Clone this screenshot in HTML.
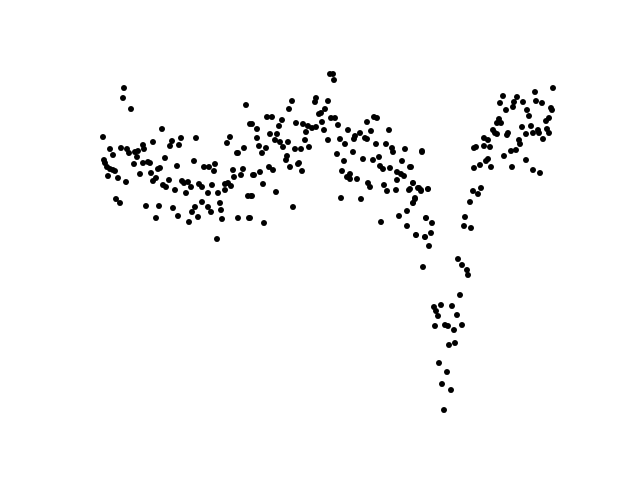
<!DOCTYPE html>
<html><head><meta charset="utf-8"><title>Scatter</title>
<style>html,body{margin:0;padding:0;background:#fff;}svg{display:block;}</style>
</head><body>
<svg id="chart" width="640" height="480" viewBox="0 0 640 480" xmlns="http://www.w3.org/2000/svg">
<rect x="0" y="0" width="640" height="480" fill="#fff"/>
<g id="pts"></g>
</svg>
<script>
const seriesT = [24,23,31,146,150,62,3,96,81,72,53,130,127,79,70,10,21,27,29,35,38,43,44,37,13,4,5,7,10,13,15,34,43,48,50,65,94,77,58,60,51,40,8,18,26,56,53,69,63,66,75,82,84,88,86,91,99,102,112,108,104,109,114,115,118,125,128,131,125,133,137,138,144,143,141,134,153,148,151,16,20,46,59,73,95,102,108,111,120,121,122,138,149,56,78,92,89,98,117,
230,233,234,216,215,228,192,189,225,221,219,167,172,231,235,274,277,182,196,203,222,238,267,152,179,208,212,216,157,224,206,248,289,170,177,260,271,255,254,265,267,157,240,205,228,175,180,188,245,276,286,183,209,159,166,195,201,292,293,305,322,162,253,237,187,186,279,263,273,302,244,199,198,190,280,283,290,310,169,173,202,297,301,304,242,250,154,160,247,250,257,297,313,163,268,270,284,296,287,309,318,321,328,176,152,241,261,315,313,193,307,299,326,150,164,281,307,316,325,
453,435,403,417,423,414,436,442,400,413,406,427,451,452,429,399,449,446,397,401,422,431,393,395,397,408,407,438,447,426,433,439,449,384,388,419,420,443,376,374,384,390,411,416,322,404,388,386,426,380,374,391,412,433,440,311,313,319,321,310,328,315,313,381,373,378,370,326,332,365,364,371,316,325,331,329,323,358,362,367,368,360,334,341,352,336,338,357,335,345,348,354,362,349,355,339,347,342,351,344];
const seriesV = [342,332,321,325,306,301,293,292,292,289,288,293,287,285,284,281,282,281,277,278,279,285,281,273,275,270,267,263,261,260,259,266,267,268,267,272,269,264,261,262,257,256,254,252,248,252,249,250,245,243,240,249,247,248,237,243,246,243,245,237,263,263,259,266,237,246,247,244,240,260,277,277,282,261,255,253,255,234,234,231,227,224,224,222,223,228,223,218,227,220,211,212,212,212,214,218,208,213,191,
356,356,350,332,328,329,329,321,321,317,316,313,313,312,312,313,312,310,307,306,308,305,308,306,304,304,302,303,301,300,298,300,300,296,296,297,299,294,291,292,291,292,291,290,290,290,288,288,286,286,286,283,283,284,282,281,281,282,278,281,278,277,278,276,274,270,273,271,270,269,269,267,266,263,264,261,262,263,263,260,259,258,256,254,259,256,255,258,253,251,251,250,247,246,247,243,245,240,239,240,242,240,241,238,234,232,231,231,227,223,219,214,212,212,207,208,204,195,193,
342,338,334,333,328,328,329,327,327,323,320,320,322,320,314,311,312,309,307,307,303,304,300,297,296,297,295,300,301,296,297,297,297,292,290,290,286,291,283,282,284,283,279,280,279,274,271,269,270,265,262,263,263,260,257,263,247,242,239,241,241,232,227,242,239,236,228,212,207,213,204,202,195,193,197,184,163,171,165,160,155,135,123,125,124,119,114,115,104,105,104,100,105,85,87,67,58,46,40,20];
function xScale(t){ return 100 + t; }
function yScale(v){ return 430 - v; }
const g = document.getElementById('pts');
const NS = 'http://www.w3.org/2000/svg';
for (let i = 0; i < seriesT.length; i++) {
  const c = document.createElementNS(NS, 'circle');
  c.setAttribute('cx', xScale(seriesT[i]));
  c.setAttribute('cy', yScale(seriesV[i]));
  c.setAttribute('r', 3);
  c.setAttribute('fill', '#000');
  
  
  g.appendChild(c);
}
</script>
</body></html>
